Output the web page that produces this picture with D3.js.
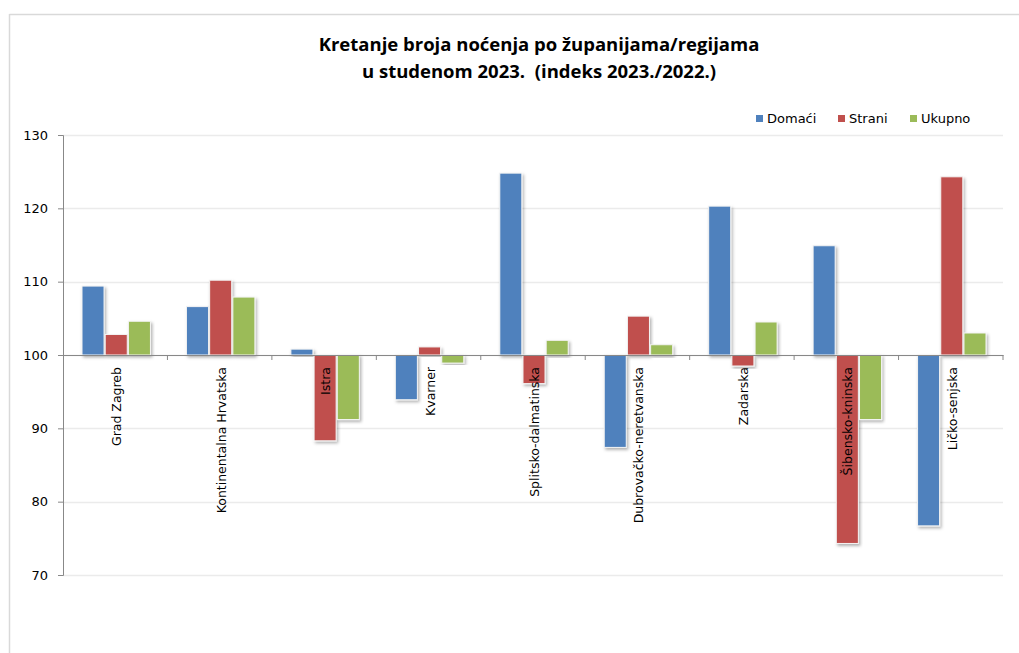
<!DOCTYPE html>
<html>
<head>
<meta charset="utf-8">
<script src="https://cdn.jsdelivr.net/npm/d3@7"></script>
<style>
  body { margin: 0; background: #fff; }
  svg { display: block; font-family: "DejaVu Sans", Verdana, sans-serif; }
</style>
</head>
<body>
<svg id="chart" width="1019" height="653"></svg>
<script>
var regions = ["Grad Zagreb", "Kontinentalna Hrvatska", "Istra", "Kvarner", "Splitsko-dalmatinska",
               "Dubrovačko-neretvanska", "Zadarska", "Šibensko-kninska", "Ličko-senjska"];
var seriesNames = ["Domaći", "Strani", "Ukupno"];
var domaci = [109.4, 106.6, 100.8, 93.9, 124.8, 87.4, 120.3, 114.9, 76.7];
var strani = [102.8, 110.2, 88.3, 101.1, 96.1, 105.3, 98.5, 74.3, 124.3];
var ukupno = [104.6, 107.9, 91.2, 98.9, 102.0, 101.4, 104.5, 91.2, 103.0];
var yTicks = [70, 80, 90, 100, 110, 120, 130];
var colors = ["#4F81BD", "#C0504D", "#9BBB59"];

var svg = d3.select("#chart");
var plotLeft = 63, plotRight = 1003, plotTop = 135, plotBottom = 575;

// frame lines
svg.append("line").attr("x1", 9.5).attr("x2", 1019).attr("y1", 14.5).attr("y2", 14.5)
   .attr("stroke", "#d9d9d9").attr("stroke-width", 1.5);
svg.append("line").attr("x1", 9.5).attr("x2", 9.5).attr("y1", 14).attr("y2", 653)
   .attr("stroke", "#d9d9d9").attr("stroke-width", 1.5);

// title
var title = svg.append("text").attr("text-anchor", "middle")
   .style("font-family", "'Open Sans', sans-serif").style("font-weight", "bold")
   .style("font-size", "18.5px").style("white-space", "pre").attr("fill", "#000");
title.append("tspan").attr("x", 539).attr("y", 51).text("Kretanje broja noćenja po županijama/regijama");
title.append("tspan").attr("x", 539).attr("y", 78).text("u studenom 2023.  (indeks 2023./2022.)");

var x0 = d3.scaleBand().domain(regions).range([plotLeft, plotRight]).paddingInner(0).paddingOuter(0);
var x1 = d3.scaleBand().domain(seriesNames).range([19, x0.bandwidth() - 17]).paddingInner(0.05);
var y = d3.scaleLinear().domain([70, 130]).range([plotBottom, plotTop]);

// gridlines
svg.append("g").selectAll("line").data(yTicks).enter().append("line")
   .attr("x1", plotLeft).attr("x2", plotRight)
   .attr("y1", function(d) { return Math.round(y(d)) + 0.5; })
   .attr("y2", function(d) { return Math.round(y(d)) + 0.5; })
   .attr("stroke", "#ebebeb").attr("stroke-width", 1.5);

// y axis
var yAxis = svg.append("g").attr("transform", "translate(" + plotLeft + ",0)")
   .call(d3.axisLeft(y).tickValues(yTicks).tickSize(5).tickPadding(10));
yAxis.select(".domain").attr("stroke", "#888");
yAxis.selectAll(".tick line").attr("stroke", "#888");
yAxis.selectAll("text").style("font-size", "13px").attr("fill", "#000")
   .style("font-family", "'DejaVu Sans', Verdana, sans-serif");

// shadow
var defs = svg.append("defs");
var f = defs.append("filter").attr("id", "shadow").attr("x", "-20%").attr("y", "-20%")
   .attr("width", "140%").attr("height", "140%");
f.append("feDropShadow").attr("dx", 1.5).attr("dy", 2).attr("stdDeviation", 1.5)
   .attr("flood-color", "#000").attr("flood-opacity", 0.3);

var rows = regions.map(function(r, i) {
  return { region: r, values: [domaci[i], strani[i], ukupno[i]] };
});

var groups = svg.append("g").selectAll("g").data(rows).enter().append("g")
   .attr("transform", function(d) { return "translate(" + x0(d.region) + ",0)"; });

groups.selectAll("rect").data(function(d) {
  return d.values.map(function(v, k) { return { name: seriesNames[k], value: v, k: k }; });
}).enter().append("rect")
   .attr("x", function(d) { return x1(d.name); })
   .attr("width", x1.bandwidth())
   .attr("y", function(d) { return y(Math.max(d.value, 100)); })
   .attr("height", function(d) { return Math.abs(y(d.value) - y(100)); })
   .attr("fill", function(d) { return colors[d.k]; })
   .attr("stroke", "#f4f4f4").attr("stroke-width", 1)
   .attr("filter", "url(#shadow)");

// x axis at 100
var xAxis = svg.append("g").attr("transform", "translate(0," + y(100) + ")")
   .call(d3.axisBottom(x0).tickSize(0).tickFormat(""));
xAxis.select(".domain").attr("stroke", "#888").attr("stroke-width", 1.2);
xAxis.selectAll(".tick").remove();
svg.append("g").selectAll("line").data(regions).enter().append("line")
   .attr("x1", function(d) { return x0(d) + x0.bandwidth(); })
   .attr("x2", function(d) { return x0(d) + x0.bandwidth(); })
   .attr("y1", y(100)).attr("y2", y(100) + 5)
   .attr("stroke", "#888");

// category labels
svg.append("g").selectAll("text").data(regions).enter().append("text")
   .attr("transform", function(d) {
     return "translate(" + (x0(d) + x0.bandwidth() / 2 + 6) + "," + (y(100) + 12) + ") rotate(-90)";
   })
   .attr("text-anchor", "end")
   .style("font-size", "12.5px").attr("fill", "#000")
   .text(function(d) { return d; });

// legend
var legX = [756, 838, 910];
var leg = svg.append("g").selectAll("g").data(seriesNames).enter().append("g")
   .attr("transform", function(d, i) { return "translate(" + legX[i] + ",115)"; });
leg.append("rect").attr("width", 7).attr("height", 7)
   .attr("fill", function(d, i) { return colors[i]; });
leg.append("text").attr("x", 11).attr("y", 8).style("font-size", "13px").attr("fill", "#000")
   .text(function(d) { return d; });
</script>
</body>
</html>
